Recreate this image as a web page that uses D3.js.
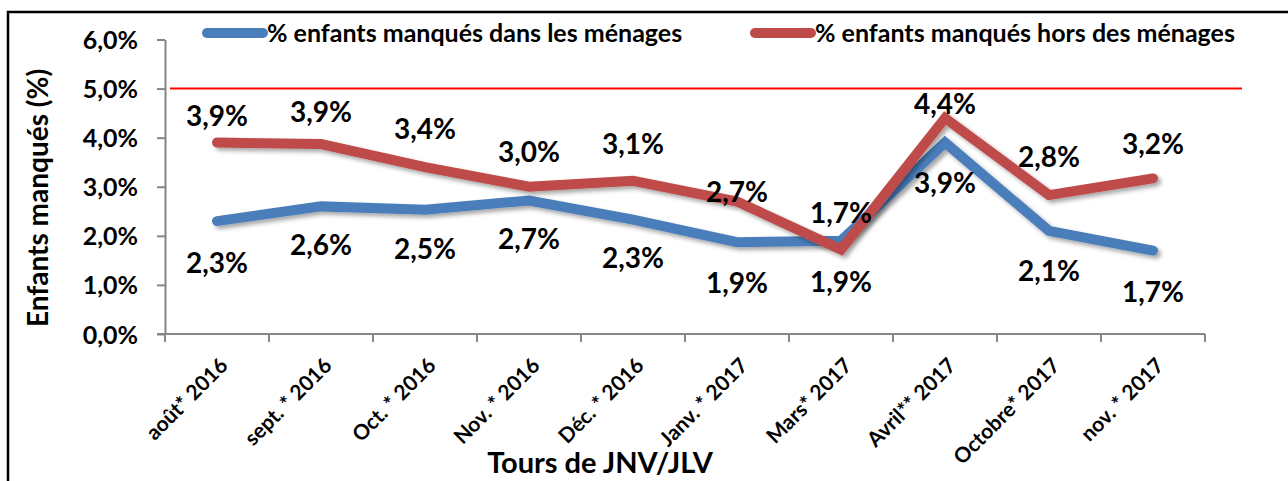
<!DOCTYPE html>
<html>
<head>
<meta charset="utf-8">
<script src="https://cdn.jsdelivr.net/npm/d3@7/dist/d3.min.js"></script>
<style>
  body { margin: 0; background: #fff; }
  svg { display: block; font-family: Lato, "Open Sans", sans-serif; font-weight: bold; }
  .axis path, .axis line { stroke: #868686; stroke-width: 2; }
</style>
</head>
<body>
<div id="chart"></div>
<script>
var width = 1288, height = 481;

// data
var categories = ["août* 2016", "sept. * 2016", "Oct. * 2016", "Nov. * 2016", "Déc. * 2016",
                  "Janv. * 2017", "Mars* 2017", "Avril** 2017", "Octobre* 2017", "nov. * 2017"];
var dansMenages = [0.023, 0.026, 0.0253, 0.0272, 0.0233, 0.0187, 0.019, 0.039, 0.021, 0.017];
var horsMenages = [0.039, 0.0387, 0.034, 0.030, 0.0312, 0.027, 0.0172, 0.044, 0.0283, 0.0317];
var seriesNames = ["% enfants manqués dans les ménages", "% enfants manqués hors des ménages"];
var yTicks = [0, 0.01, 0.02, 0.03, 0.04, 0.05, 0.06];
var seuil = 0.05;

// label nudges (px) where the picture moves them off the default spot
var nudgeHors = [0, 5, 11, 8, 10, -18, 10, -13, 11, 7];
var nudgeDans = [2, -1, -1, -1, -2, 1, 1, 0, 0, 1];

var colors = ["#4a7ebb", "#be4b48"];

var fmt = function (v) { return d3.format(".1%")(v).replace(".", ","); };

var svg = d3.select("#chart").append("svg")
    .attr("width", width)
    .attr("height", height);

var defs = svg.append("defs");
var shadow = defs.append("filter").attr("id", "shadow")
    .attr("x", "-5%").attr("y", "-20%").attr("width", "115%").attr("height", "150%");
shadow.append("feDropShadow")
    .attr("dx", 3).attr("dy", 3)
    .attr("stdDeviation", 2)
    .attr("flood-color", "#000")
    .attr("flood-opacity", 0.35);

// frame
svg.append("path")
    .attr("d", "M8," + height + "V12H" + width)
    .attr("fill", "none")
    .attr("stroke", "#000")
    .attr("stroke-width", 2.5);

var x = d3.scaleBand()
    .domain(categories)
    .range([165, 1205]);

var y = d3.scaleLinear()
    .domain([0, 0.06])
    .range([334, 39.5]);

var cx = function (d, i) { return x(categories[i]) + x.bandwidth() / 2; };

// y axis
var gY = svg.append("g")
    .attr("class", "axis")
    .attr("transform", "translate(165,0)")
    .call(d3.axisLeft(y).tickValues(yTicks).tickSize(8).tickSizeOuter(0).tickFormat(fmt));
gY.selectAll("text")
    .attr("x", -27)
    .attr("dy", "0.36em")
    .style("font-size", "25px")
    .style("font-weight", "bold")
    .style("font-family", "Lato, sans-serif")
    .attr("fill", "#000");

// x axis: line with ticks at the category boundaries
var gX = svg.append("g")
    .attr("class", "axis")
    .attr("transform", "translate(0,334)");
gX.append("line")
    .attr("x1", x.range()[0] - 8).attr("x2", x.range()[1]);
gX.selectAll(".bound")
    .data(categories.map(function (c) { return x(c); }).concat([x.range()[1]]))
    .enter().append("line")
    .attr("class", "bound")
    .attr("x1", function (d) { return d; })
    .attr("x2", function (d) { return d; })
    .attr("y1", 0).attr("y2", 8);

gX.selectAll(".cat")
    .data(categories)
    .enter().append("text")
    .attr("class", "cat")
    .attr("text-anchor", "end")
    .attr("transform", function (d) {
        return "translate(" + (x(d) + x.bandwidth() / 2 + 12) + ",33) rotate(-45)";
    })
    .style("font-size", "21px")
    .text(function (d) { return d; });

// seuil 5%
svg.append("line")
    .attr("x1", 170).attr("x2", 1242)
    .attr("y1", y(seuil)).attr("y2", y(seuil))
    .attr("stroke", "#ff0000")
    .attr("stroke-width", 2);

// lines
var line = d3.line()
    .x(cx)
    .y(function (d) { return y(d); });

var plot = svg.append("g").attr("id", "plot");

[dansMenages, horsMenages].forEach(function (s, k) {
    plot.append("path")
        .datum(s)
        .attr("d", line)
        .attr("fill", "none")
        .attr("stroke", colors[k])
        .attr("stroke-width", 10)
        .attr("stroke-linecap", "round")
        .attr("stroke-linejoin", "miter")
        .attr("filter", "url(#shadow)");
});

// data labels
svg.append("g").selectAll("text")
    .data(horsMenages)
    .enter().append("text")
    .attr("x", cx)
    .attr("y", function (d, i) { return y(d) - 17 - nudgeHors[i]; })
    .attr("text-anchor", "middle")
    .style("font-size", "28px")
    .text(fmt);

svg.append("g").selectAll("text")
    .data(dansMenages)
    .enter().append("text")
    .attr("x", cx)
    .attr("y", function (d, i) { return y(d) + 50 + nudgeDans[i]; })
    .attr("text-anchor", "middle")
    .style("font-size", "28px")
    .text(fmt);

// legend
var legendX = [207, 755];
var legend = svg.append("g").selectAll("g")
    .data(seriesNames)
    .enter().append("g")
    .attr("transform", function (d, i) { return "translate(" + legendX[i] + ",33)"; });
legend.append("line")
    .attr("x1", 0).attr("x2", 56)
    .attr("stroke", function (d, i) { return colors[i]; })
    .attr("stroke-width", 10)
    .attr("stroke-linecap", "round");
legend.append("text")
    .attr("x", 60)
    .attr("y", 9)
    .style("font-size", "25px")
    .text(function (d) { return d; });

// axis titles
svg.append("text")
    .attr("transform", "translate(48,198) rotate(-90)")
    .attr("text-anchor", "middle")
    .style("font-size", "28px")
    .text("Enfants manqués (%)");

svg.append("text")
    .attr("x", 600)
    .attr("y", 473)
    .attr("text-anchor", "middle")
    .style("font-size", "29px")
    .text("Tours de JNV/JLV");
</script>
</body>
</html>
